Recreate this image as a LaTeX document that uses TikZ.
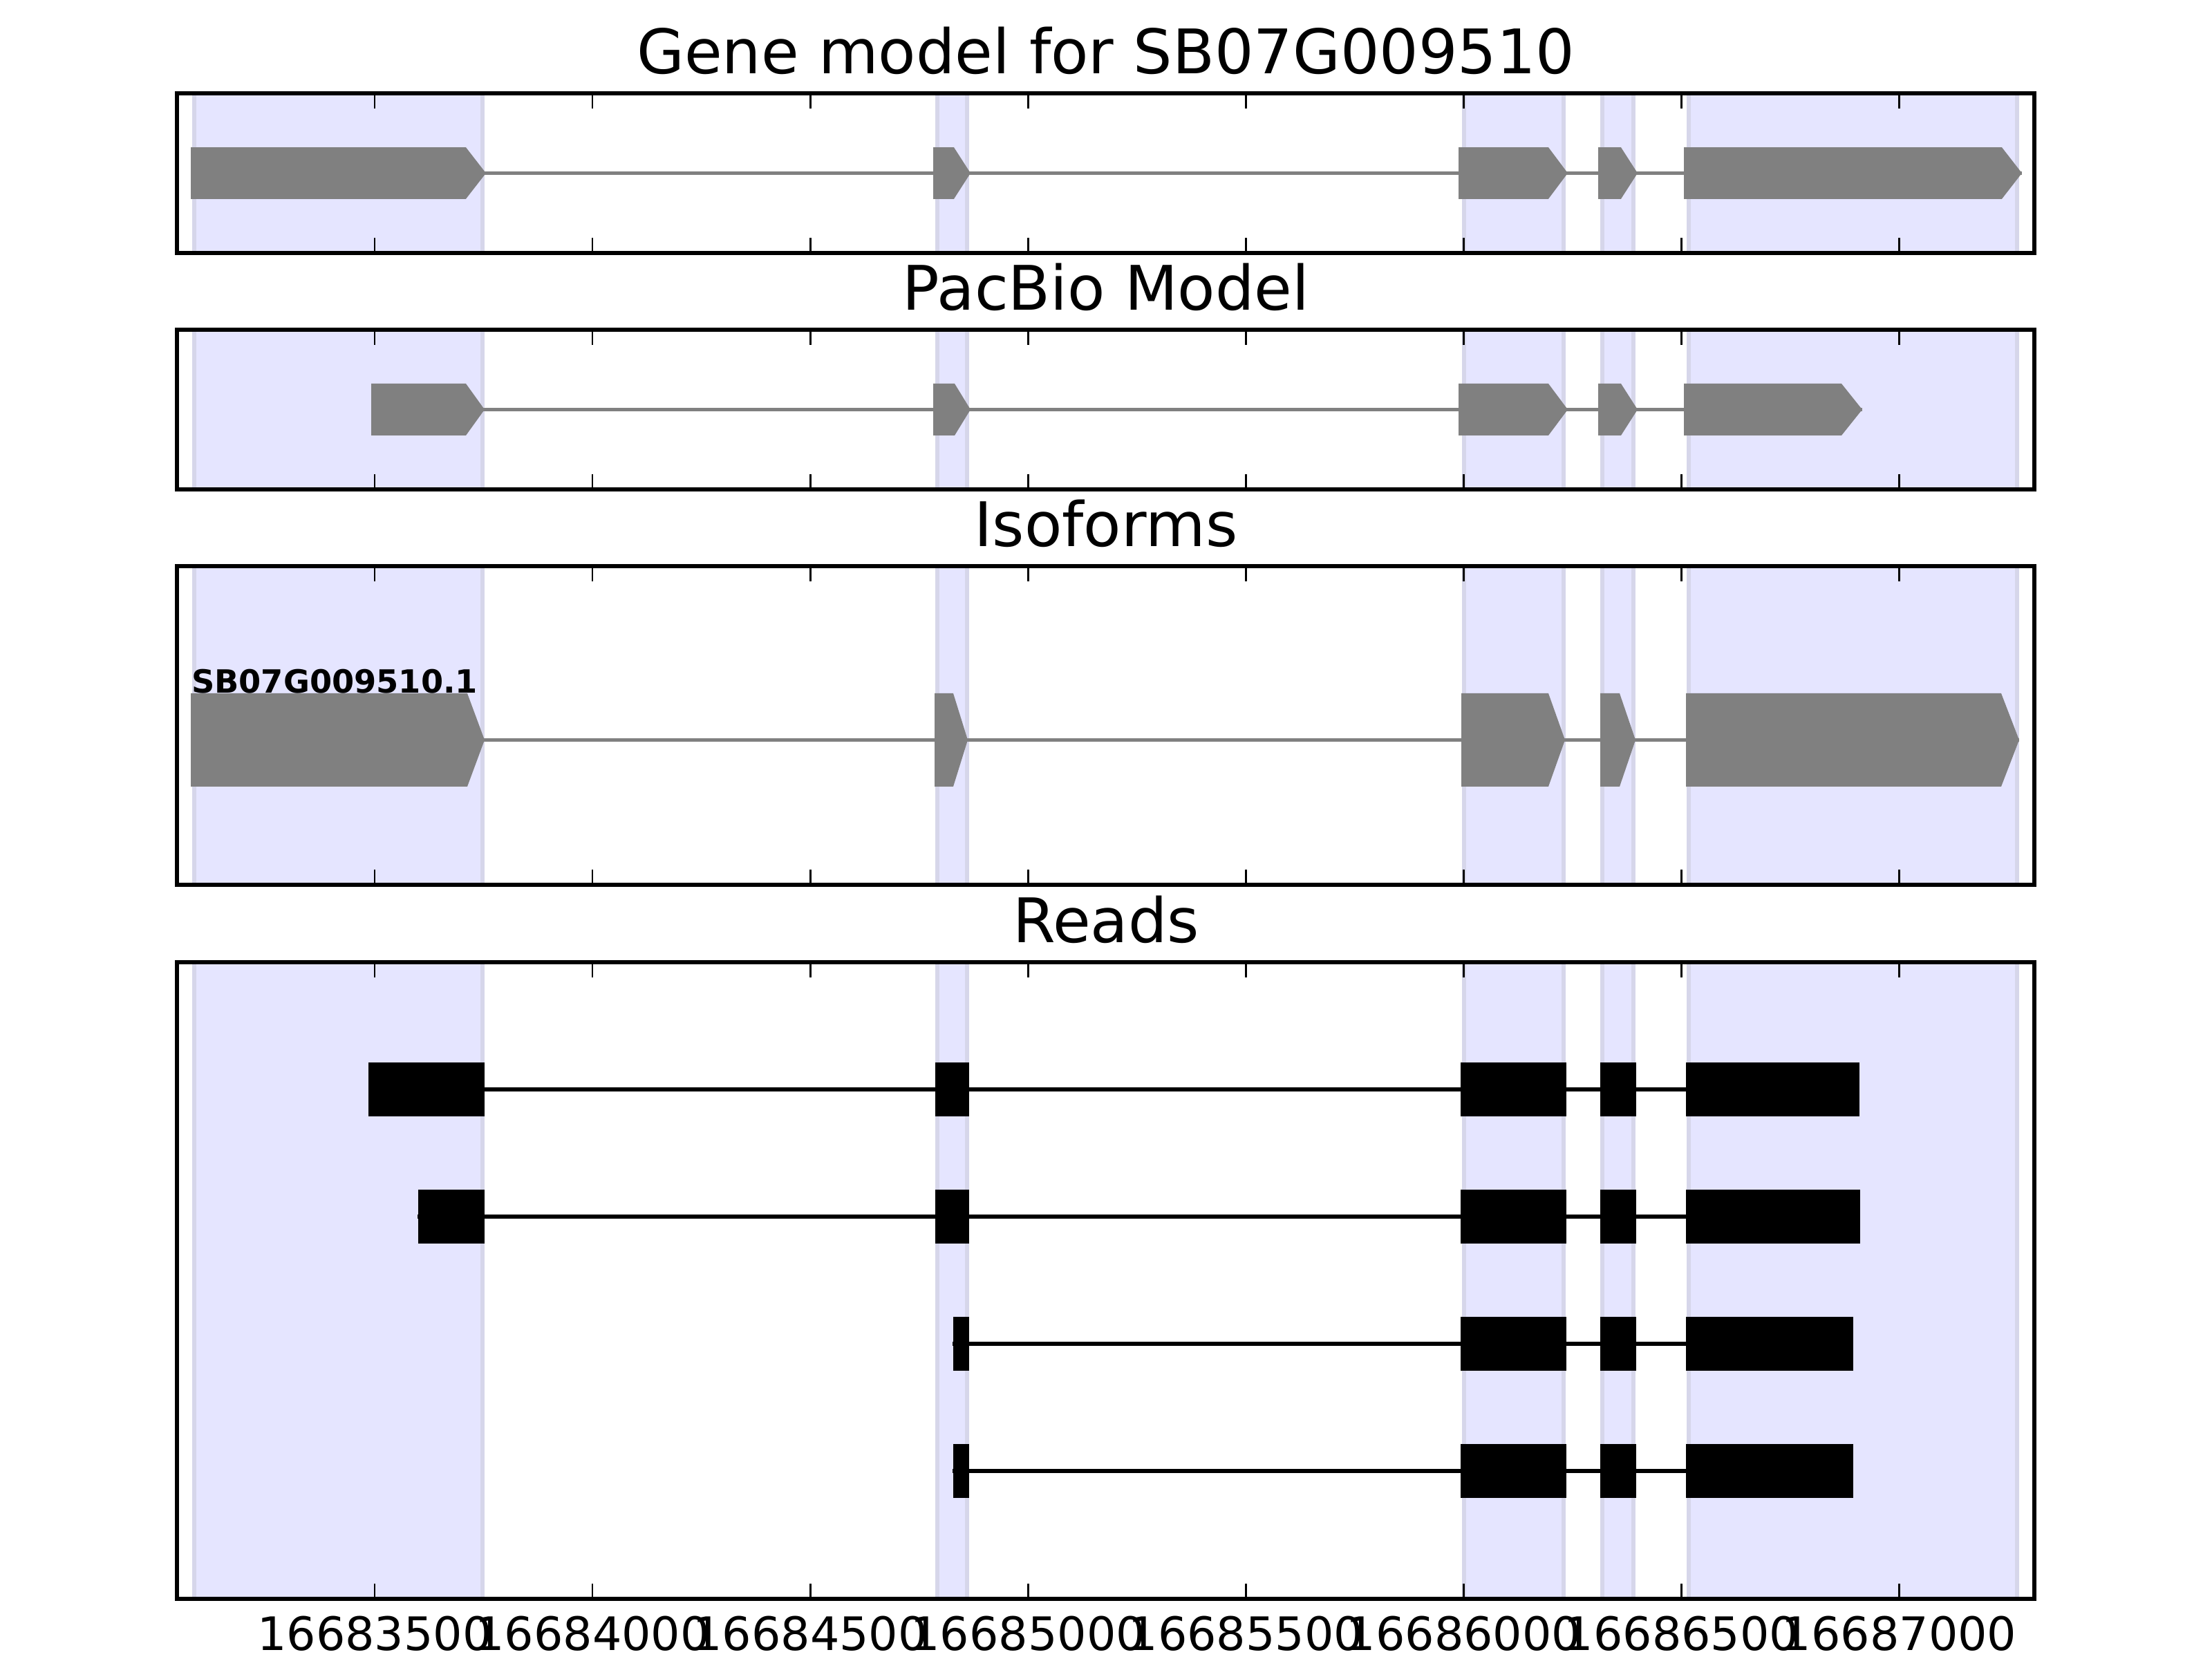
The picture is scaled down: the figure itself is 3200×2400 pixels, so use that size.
\documentclass[tikz,border=0pt]{standalone}
\usepackage{fontspec}
\setmainfont{DejaVu Sans}
\definecolor{shadefill}{RGB}{229,229,255}
\definecolor{shadeedge}{RGB}{214,214,234}
\definecolor{exongray}{RGB}{128,128,128}
\newcommand\exonarrow[5]{%
  \fill[exongray] ({#1},{#4-#5}) -- ({#2},{#4-#5}) -- ({#3},{#4}) -- ({#2},{#4+#5}) -- ({#1},{#4+#5}) -- cycle;}
\newcommand\readbox[4]{%
  \fill[black] ({#1},{#3-#4}) rectangle ({#2},{#3+#4});}
\begin{document}
\begin{tikzpicture}[x=0.18bp,y=-0.18bp,
  frameline/.style={draw=black,line width=1bp},
  tickmark/.style={draw=black,line width=0.5bp},
  shadebox/.style={fill=shadefill,draw=shadeedge,line width=1bp},
  intronline/.style={draw=exongray,line width=1bp},
  readline/.style={draw=black,line width=1bp},
  titletext/.style={anchor=base,inner sep=0pt,font=\fontsize{16.06}{19}\selectfont},
  ticklabel/.style={anchor=base,inner sep=0pt,font=\fontsize{12.05}{14}\selectfont},
  isolabel/.style={anchor=base west,inner sep=0pt,font=\bfseries\fontsize{8.36}{10}\selectfont}]
\useasboundingbox (0,0) rectangle (3200,2400);
\fill[white] (0,0) rectangle (3200,2400);

% shaded exon regions and ticks in each panel
\foreach \t/\b in {135/366,477/708,819/1280,1392/2313}{
  \foreach \a/\c in {281/698,1356/1399,2118/2262,2318/2363,2443/2918}{
    \draw[shadebox] (\a,\t) rectangle (\c,\b);
  }
  \foreach \k in {0,...,7}{
    \draw[tickmark] ({542+315.1*\k},\t) -- ++(0,22);
    \draw[tickmark] ({542+315.1*\k},\b) -- ++(0,-22);
  }
}

% Panel 1: gene model
\draw[intronline] (276,250.5) -- (2925,250.5);
\exonarrow{276}{674}{703}{250.5}{37.3}
\exonarrow{1350}{1380}{1404}{250.5}{37.3}
\exonarrow{2110}{2240}{2268}{250.5}{37.3}
\exonarrow{2312}{2345}{2369}{250.5}{37.3}
\exonarrow{2436}{2896}{2925}{250.5}{37.3}

% Panel 2: PacBio model
\draw[intronline] (537,592.5) -- (2694,592.5);
\exonarrow{537}{674}{701}{592.5}{37.5}
\exonarrow{1350}{1381}{1404}{592.5}{37.5}
\exonarrow{2110}{2240}{2268}{592.5}{37.5}
\exonarrow{2312}{2345}{2369}{592.5}{37.5}
\exonarrow{2436}{2664}{2694}{592.5}{37.5}

% Panel 3: isoforms
\draw[intronline] (276,1070.5) -- (2921,1070.5);
\exonarrow{276}{676}{701}{1070.5}{67.5}
\exonarrow{1352}{1379}{1400}{1070.5}{67.5}
\exonarrow{2114}{2240}{2264}{1070.5}{67.5}
\exonarrow{2315}{2343}{2366}{1070.5}{67.5}
\exonarrow{2439}{2895}{2921}{1070.5}{67.5}
\node[isolabel] (iso1) at (276,1003) {SB07G009510.1};

% Panel 4: reads
\draw[readline] (533,1576) -- (2690,1576);
\readbox{533}{701}{1576}{39.3}
\readbox{1353}{1402}{1576}{39.3}
\readbox{2113}{2266}{1576}{39.3}
\readbox{2315}{2367}{1576}{39.3}
\readbox{2439}{2690}{1576}{39.3}

\draw[readline] (604,1760) -- (2691,1760);
\readbox{605}{701}{1760}{39.3}
\readbox{1353}{1402}{1760}{39.3}
\readbox{2113}{2266}{1760}{39.3}
\readbox{2315}{2367}{1760}{39.3}
\readbox{2439}{2691}{1760}{39.3}

\draw[readline] (1378,1944) -- (2681,1944);
\readbox{1379}{1402}{1944}{39.3}
\readbox{2113}{2266}{1944}{39.3}
\readbox{2315}{2367}{1944}{39.3}
\readbox{2439}{2681}{1944}{39.3}

\draw[readline] (1378,2128) -- (2681,2128);
\readbox{1379}{1402}{2128}{39.3}
\readbox{2113}{2266}{2128}{39.3}
\readbox{2315}{2367}{2128}{39.3}
\readbox{2439}{2681}{2128}{39.3}

% frames
\foreach \t/\b in {135/366,477/708,819/1280,1392/2313}{
  \draw[frameline] (256,\t) rectangle (2943,\b);
}

% titles
\node[titletext] (t1) at (1600,107) {Gene model for SB07G009510};
\node[titletext] (t2) at (1600,449) {PacBio Model};
\node[titletext] (t3) at (1600,791) {Isoforms};
\node[titletext] (t4) at (1600,1364) {Reads};

% tick labels
\foreach \k/\lab in {0/16683500,1/16684000,2/16684500,3/16685000,4/16685500,5/16686000,6/16686500,7/16687000}{
  \node[ticklabel] (tl\k) at ({542+315.1*\k},2388) {\lab};
}
\end{tikzpicture}
\end{document}
